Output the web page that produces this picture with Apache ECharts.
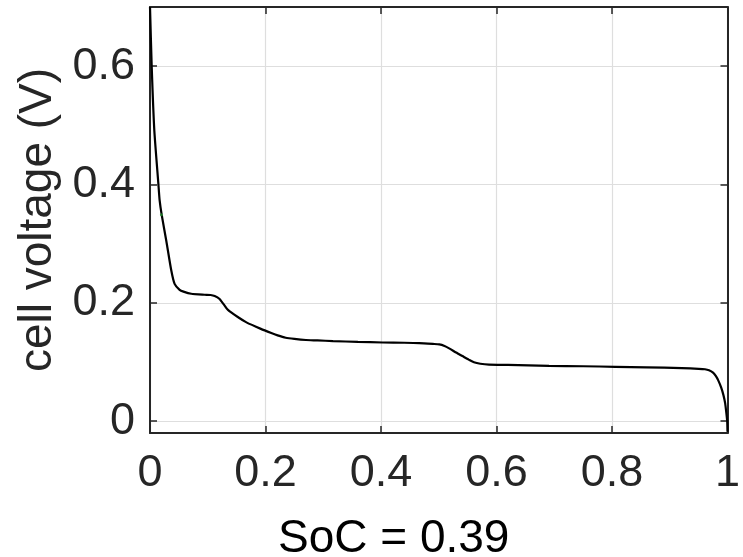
<!DOCTYPE html>
<html>
<head>
<meta charset="utf-8">
<style>
  html, body { margin: 0; padding: 0; background: #fff; }
  #chart { width: 743px; height: 557px; }
</style>
<script src="https://cdn.jsdelivr.net/npm/echarts@6/dist/echarts.min.js"></script>
</head>
<body>
<div id="chart"></div>
<script>
// State of charge (x) and cell voltage in volts (y) along the discharge curve
const soc = [
  0, 0.003, 0.0075, 0.0145, 0.0167, 0.0202, 0.0282, 0.0368, 0.0426, 0.0513,
  0.058, 0.0714, 0.0945, 0.105, 0.112, 0.120, 0.128, 0.135, 0.152, 0.167,
  0.192, 0.210, 0.221, 0.235, 0.250, 0.270, 0.290, 0.317, 0.360, 0.403,
  0.440, 0.466, 0.490, 0.501, 0.510, 0.518, 0.530, 0.541, 0.552, 0.561,
  0.572, 0.587, 0.620, 0.691, 0.750, 0.806, 0.860, 0.921, 0.950, 0.961,
  0.968, 0.975, 0.980, 0.984, 0.989, 0.993, 0.996, 0.998, 0.9995, 1.0
];
const voltage = [
  0.700, 0.598, 0.491, 0.401, 0.373, 0.349, 0.305, 0.255, 0.232, 0.222,
  0.219, 0.2154, 0.2137, 0.2132, 0.2115, 0.207, 0.197, 0.188, 0.176, 0.167,
  0.156, 0.149, 0.145, 0.141, 0.139, 0.1372, 0.1365, 0.1353, 0.134, 0.133,
  0.1325, 0.1319, 0.1305, 0.1297, 0.127, 0.123, 0.116, 0.110, 0.104, 0.0995,
  0.097, 0.0955, 0.095, 0.0936, 0.0928, 0.0919, 0.091, 0.0896, 0.0885, 0.0877,
  0.086, 0.082, 0.076, 0.069, 0.057, 0.044, 0.030, 0.014, 0.000, -0.018
];
// Highlighted operating point
const markerSoc = [0.0198];
const markerVoltage = [0.349];

const xTicks = [0, 0.2, 0.4, 0.6, 0.8, 1];
const yTicks = [0, 0.2, 0.4, 0.6];
const xLabel = 'SoC = 0.39';
const yLabel = 'cell voltage (V)';

const FONT = 'Liberation Sans, Arial, Helvetica, sans-serif';
const AXIS_COLOR = '#262626';

const curve = soc.map((s, i) => [s, voltage[i]]);
const marker = markerSoc.map((s, i) => [s, markerVoltage[i]]);

function fmt(v) { return String(+v.toFixed(2)); }

const chart = echarts.init(document.getElementById('chart'), null, { renderer: 'canvas' });

const boxAxisCommon = {
  axisLine: { show: true, onZero: false, lineStyle: { color: AXIS_COLOR, width: 2 } },
  axisTick: { show: true, inside: true, length: 7, lineStyle: { color: AXIS_COLOR, width: 1.5 } },
  axisLabel: { show: false },
  splitLine: { show: false }
};

chart.setOption({
  animation: false,
  backgroundColor: '#ffffff',
  title: {
    text: xLabel,
    left: 278,
    top: 516,
    padding: 0,
    textStyle: { fontFamily: FONT, fontSize: 46, fontWeight: 'normal', color: '#000' }
  },
  grid: { left: 150, right: 14, top: 7, bottom: 124, containLabel: false },
  xAxis: [
    {
      type: 'value', min: 0, max: 1, position: 'bottom',
      axisLine: { show: true, onZero: false, lineStyle: { color: AXIS_COLOR, width: 2 } },
      axisTick: { show: true, inside: true, length: 7, customValues: xTicks,
                  lineStyle: { color: AXIS_COLOR, width: 1.5 } },
      axisLabel: { show: true, customValues: xTicks, margin: 18, formatter: fmt,
                   fontFamily: FONT, fontSize: 45, color: '#262626' },
      splitLine: { show: true, lineStyle: { color: '#dedede', width: 1.2 } }
    },
    Object.assign({ type: 'value', min: 0, max: 1, position: 'top' }, boxAxisCommon,
      { axisTick: Object.assign({}, boxAxisCommon.axisTick, { customValues: xTicks }) })
  ],
  yAxis: [
    {
      type: 'value', min: -0.02, max: 0.7, position: 'left',
      name: yLabel, nameLocation: 'middle', nameGap: 81, nameRotate: 90,
      nameTextStyle: { fontFamily: FONT, fontSize: 46, color: '#262626' },
      axisLine: { show: true, onZero: false, lineStyle: { color: AXIS_COLOR, width: 2 } },
      axisTick: { show: true, inside: true, length: 7, customValues: yTicks,
                  lineStyle: { color: AXIS_COLOR, width: 1.5 } },
      axisLabel: { show: true, customValues: yTicks, margin: 15, formatter: fmt,
                   padding: [5, 0, 0, 0],
                   fontFamily: FONT, fontSize: 45, color: '#262626' },
      splitLine: { show: true, lineStyle: { color: '#dedede', width: 1.2 } }
    },
    Object.assign({ type: 'value', min: -0.02, max: 0.7, position: 'right' }, boxAxisCommon,
      { axisTick: Object.assign({}, boxAxisCommon.axisTick, { customValues: yTicks }) })
  ],
  series: [
    {
      type: 'line',
      data: curve,
      xAxisIndex: 0, yAxisIndex: 0,
      showSymbol: false,
      smooth: 0.2,
      clip: true,
      lineStyle: { color: '#000000', width: 2.2 },
      z: 3
    },
    {
      type: 'scatter',
      data: marker,
      xAxisIndex: 0, yAxisIndex: 0,
      symbol: 'circle',
      symbolSize: 3,
      itemStyle: { color: '#1f8a2a' },
      z: 4
    }
  ]
});
</script>
</body>
</html>
